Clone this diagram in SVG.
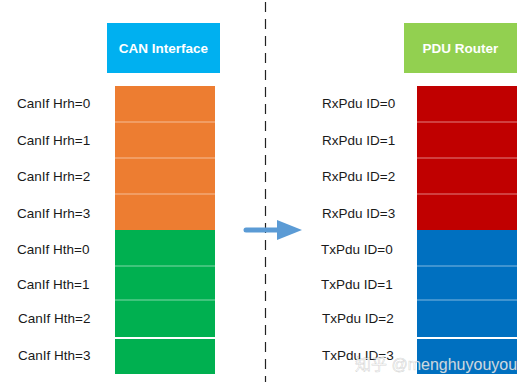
<svg xmlns="http://www.w3.org/2000/svg" width="530" height="388" viewBox="0 0 530 388">
<style>
.lbl{font-family:"Liberation Sans",Arial,sans-serif;font-size:13.5px;fill:#1a1a1a}
.hdr{font-family:"Liberation Sans",Arial,sans-serif;font-size:13.5px;font-weight:bold;fill:#fff;text-anchor:middle}
.sep{stroke:#fff;stroke-opacity:0.5;stroke-width:1}
.wm{font-family:"Liberation Sans","Noto Sans CJK SC",sans-serif;font-size:16px;fill:#fff;fill-opacity:0.85;stroke:#888;stroke-opacity:0.35;stroke-width:0.6}
</style>
<rect width="530" height="388" fill="#fff"/>
<g id="can-interface">
<rect x="107" y="23" width="113" height="50" fill="#00B0F0"/>
<text class="hdr" x="163.5" y="53">CAN Interface</text>
</g>
<g id="pdu-router">
<rect x="404" y="23" width="113" height="50" fill="#92D050"/>
<text class="hdr" x="460.5" y="53">PDU Router</text>
</g>
<g id="canif-hrh">
<rect x="115" y="86" width="100" height="144" fill="#ED7D31"/>
<line class="sep" x1="115" y1="122" x2="215" y2="122"/>
<line class="sep" x1="115" y1="158" x2="215" y2="158"/>
<line class="sep" x1="115" y1="194" x2="215" y2="194"/>
<text class="lbl" x="17" y="108">CanIf Hrh=0</text>
<text class="lbl" x="17" y="145">CanIf Hrh=1</text>
<text class="lbl" x="17" y="181">CanIf Hrh=2</text>
<text class="lbl" x="17" y="218">CanIf Hrh=3</text>
</g>
<g id="canif-hth">
<rect x="115" y="230" width="100" height="107" fill="#00B050"/>
<rect x="115" y="339" width="100" height="35" fill="#00B050"/>
<line class="sep" x1="115" y1="266" x2="215" y2="266"/>
<line class="sep" x1="115" y1="300" x2="215" y2="300"/>
<text class="lbl" x="17" y="254">CanIf Hth=0</text>
<text class="lbl" x="17" y="289">CanIf Hth=1</text>
<text class="lbl" x="18" y="323">CanIf Hth=2</text>
<text class="lbl" x="18" y="360">CanIf Hth=3</text>
</g>
<g id="rxpdu">
<rect x="417" y="86" width="100" height="144" fill="#C00000"/>
<line class="sep" x1="417" y1="122" x2="517" y2="122"/>
<line class="sep" x1="417" y1="158" x2="517" y2="158"/>
<line class="sep" x1="417" y1="194" x2="517" y2="194"/>
<text class="lbl" x="322" y="108">RxPdu ID=0</text>
<text class="lbl" x="322" y="145">RxPdu ID=1</text>
<text class="lbl" x="322" y="181">RxPdu ID=2</text>
<text class="lbl" x="322" y="218">RxPdu ID=3</text>
</g>
<g id="txpdu">
<rect x="417" y="230" width="100" height="107" fill="#0070C0"/>
<rect x="417" y="339" width="100" height="35" fill="#0070C0"/>
<line class="sep" x1="417" y1="266" x2="517" y2="266"/>
<line class="sep" x1="417" y1="300" x2="517" y2="300"/>
<text class="lbl" x="321" y="254">TxPdu ID=0</text>
<text class="lbl" x="321" y="289">TxPdu ID=1</text>
<text class="lbl" x="322" y="323">TxPdu ID=2</text>
<text class="lbl" x="322" y="360">TxPdu ID=3</text>
</g>
<g id="connectors">
<line x1="265.5" y1="2" x2="265.5" y2="382" stroke="#222" stroke-width="1.2" stroke-dasharray="10,7"/>
<line x1="246" y1="230" x2="280" y2="230" stroke="#5B9BD5" stroke-width="5" stroke-linecap="round"/>
<polygon points="277,220 302,230 277,240" fill="#5B9BD5"/>
</g>
<text class="wm" x="355" y="370">知乎 @menghuyouyou</text>
</svg>
